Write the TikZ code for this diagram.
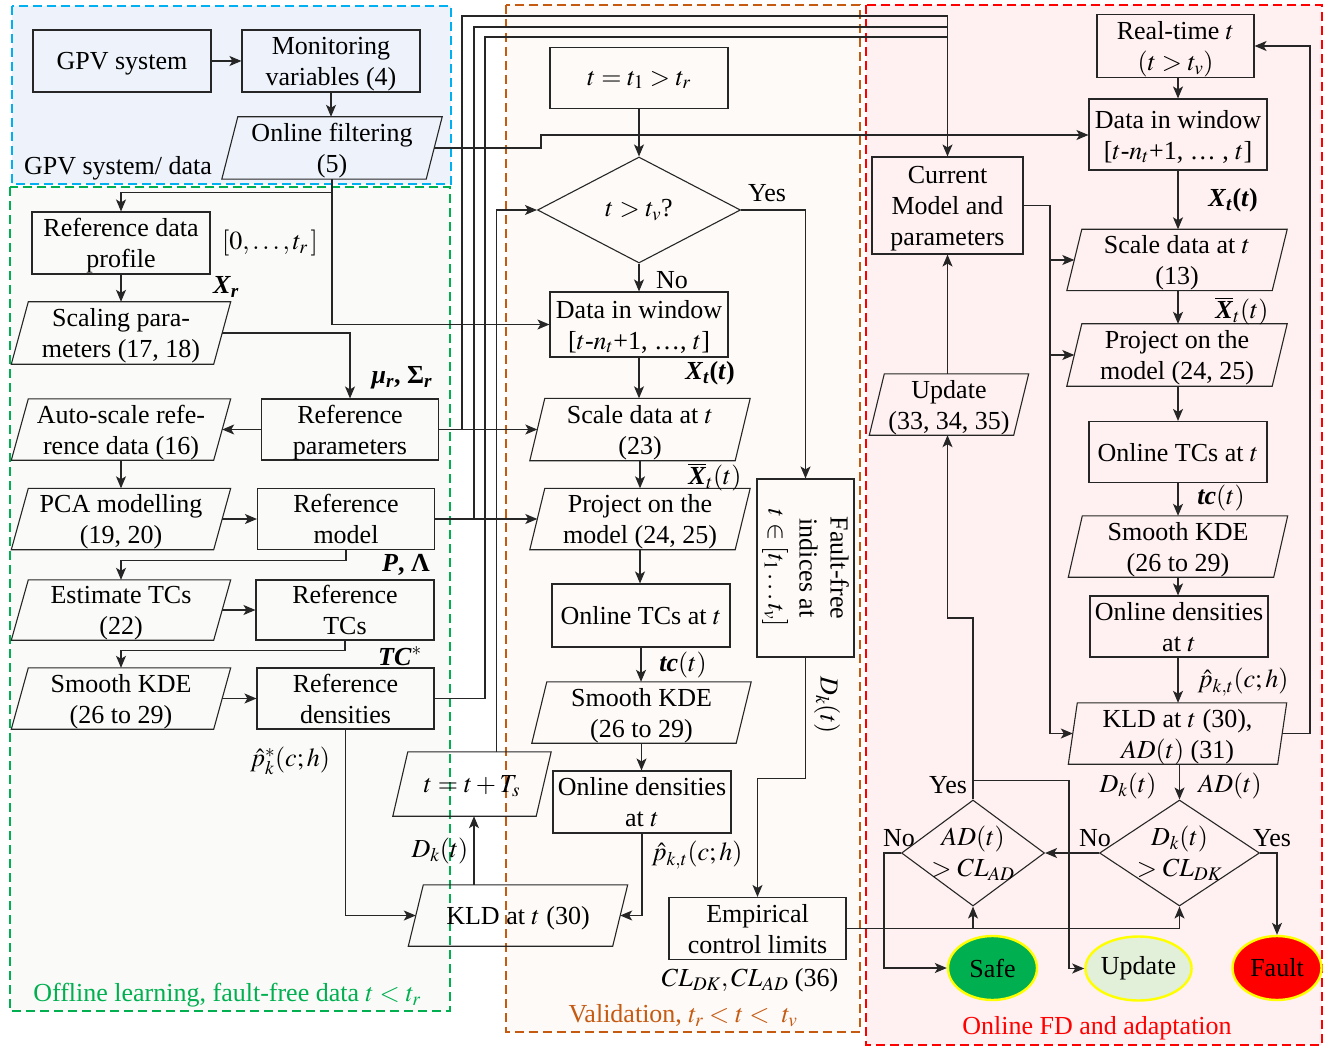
\documentclass[tikz,border=0pt]{standalone}
\usepackage{amsmath}
\usepackage{mathptmx}
\usepackage{fontspec}
\setmainfont{Liberation Serif}
\usetikzlibrary{arrows.meta,shapes.geometric}
\definecolor{cBlue}{HTML}{00B0F0}
\definecolor{fBlue}{HTML}{EEF3FB}
\definecolor{cGreen}{HTML}{00B050}
\definecolor{fGreen}{HTML}{FAFAF8}
\definecolor{cOrange}{HTML}{C55A11}
\definecolor{fOrange}{HTML}{FEFAF8}
\definecolor{cRed}{HTML}{FF0000}
\definecolor{fRed}{HTML}{FFF1F1}
\definecolor{cSafe}{HTML}{00B050}
\definecolor{cUpd}{HTML}{E2EFD9}
\definecolor{cYel}{HTML}{FFFF00}
\newcommand\fnt{\fontsize{26}{31}\selectfont}
\newcommand\bi[1]{\textbf{\textit{#1}}}
\newcommand\drawpara[2]{\draw[bx] ([xshift=#2pt]#1.north west) -- ([xshift=#2pt]#1.north east) -- ([xshift=-#2pt]#1.south east) -- ([xshift=-#2pt]#1.south west) -- cycle;}
\tikzset{
  bx/.style={line width=1.1pt, draw=black!85},
  box/.style={bx, rectangle, inner sep=0pt, align=center, text depth=-2pt},
  pnode/.style={rectangle, inner sep=0pt, align=center, text depth=-2pt},
  dmd/.style={bx, diamond, inner sep=0pt, aspect=1},
  ell/.style={ellipse, draw=cYel, line width=2.4pt, inner sep=0pt, minimum width=89, minimum height=64},
  arr/.style={line width=1.1pt, draw=black!85, -{Stealth[length=12pt,width=10pt,inset=3pt]}},
  ln/.style={line width=1.1pt, draw=black!85},
  reg/.style={dash pattern=on 9pt off 5pt, line width=2.2pt},
  lbl/.style={inner sep=0pt}
}
\begin{document}
\begin{tikzpicture}[x=1pt,y=-1pt,font=\fnt]
\useasboundingbox (0,0) rectangle (1338,1048);
% regions
\draw[reg, draw=cBlue, fill=fBlue] (12,6) rectangle (451,184);
\draw[reg, draw=cGreen, fill=fGreen] (10,187) rectangle (450,1011);
\draw[reg, draw=cOrange, fill=fOrange] (506,5) rectangle (860,1032);
\draw[reg, draw=cRed, fill=fRed] (866,5) rectangle (1322,1045);
\node[lbl] (rgBlue) at (118,168) {GPV system/ data};
\node[lbl, text=cGreen] (rgGreen) at (227,995) {Offline learning, fault-free data $t < t_r$};
\node[lbl, text=cOrange] (rgOrange) at (683,1016) {Validation, $t_r < t <\ t_v$};
\node[lbl, text=cRed] (rgRed) at (1097,1028) {Online FD and adaptation};

% coordinates for bus lines
\coordinate (bus1) at (462,16);
\coordinate (bus2) at (474,27);
\coordinate (bus3) at (485,37);
\coordinate (lp) at (496.5,0);
\coordinate (rr) at (1310,0);
\coordinate (cb) at (1050,0);
\coordinate (updV) at (1069,900);

% left column
\node[box, minimum width=178, minimum height=62] (gpv) at (122,61) {GPV system};
\node[box, minimum width=178, minimum height=62] (mon) at (331,61) {Monitoring\\variables (4)};
\node[pnode, minimum width=204, minimum height=62] (filt) at (332,148) {Online filtering\\(5)};
\drawpara{filt}{8}
\node[box, minimum width=178, minimum height=62] (refdata) at (121,243) {Reference data\\profile};
\node[pnode, minimum width=202, minimum height=62] (scal) at (121,333) {Scaling para-\\meters (17, 18)};
\drawpara{scal}{8.5}
\node[box, minimum width=177, minimum height=61] (refpar) at (350,429.5) {Reference\\parameters};
\node[pnode, minimum width=202, minimum height=61] (auto) at (121,429.5) {Auto-scale refe-\\rence data (16)};
\drawpara{auto}{8.5}
\node[pnode, minimum width=202, minimum height=61] (pca) at (121,519) {PCA modelling\\(19, 20)};
\drawpara{pca}{8.5}
\node[box, minimum width=177, minimum height=61] (refmod) at (346,519) {Reference\\model};
\node[pnode, minimum width=202, minimum height=60] (est) at (121,610) {Estimate TCs\\(22)};
\drawpara{est}{8.5}
\node[box, minimum width=178, minimum height=60] (reftc) at (345,610) {Reference\\TCs};
\node[pnode, minimum width=202, minimum height=61] (kde1) at (121,698.5) {Smooth KDE\\(26 to 29)};
\drawpara{kde1}{8.5}
\node[box, minimum width=177, minimum height=61] (refden) at (345.5,698.5) {Reference\\densities};

% middle column
\node[box, minimum width=178, minimum height=61] (t1) at (639,78) {$t = t_1 > t_r$};
\node[dmd, minimum width=203, minimum height=106] (dv) at (639,210) {};
\node[lbl] (dvT) at (dv) {$t > t_v$?};
\node[box, minimum width=178, minimum height=65] (dwin) at (639,324.5) {Data in window\\{}[$t$-$n_t$+1, \ldots, $t$]};
\node[pnode, minimum width=205, minimum height=62] (scal2) at (640,429.5) {Scale data at $t$\\(23)};
\drawpara{scal2}{7.5}
\node[pnode, minimum width=205, minimum height=61] (proj) at (640,519) {Project on the\\model (24, 25)};
\drawpara{proj}{7.5}
\node[box, minimum width=178, minimum height=63] (otc) at (641,615.5) {Online TCs at $t$};
\node[pnode, minimum width=204, minimum height=61] (kde2) at (641.5,712.5) {Smooth KDE\\(26 to 29)};
\drawpara{kde2}{7.5}
\node[box, minimum width=178, minimum height=62] (oden) at (642,802) {Online densities\\at $t$};
\node[pnode, minimum width=204, minimum height=61] (kld) at (518,915.5) {KLD at $t$ (30)};
\drawpara{kld}{7.5}
\node[pnode, minimum width=143, minimum height=64] (tts) at (472,784) {$t = t + T_s$};
\drawpara{tts}{7.5}
\node[bx, rectangle, minimum width=97, minimum height=178, inner sep=0pt] (ff) at (805.5,568) {};
\node[lbl, rotate=-90, align=center] (ffT) at (ff) {Fault-free\\indices at\\$t \in [t_1 \ldots t_v]$};
\node[box, minimum width=177, minimum height=62] (emp) at (757.5,928.5) {Empirical\\control limits};

% right column
\node[box, minimum width=157, minimum height=63] (rt) at (1175.5,46) {Real-time $t$\\$(t > t_v)$};
\node[box, minimum width=178, minimum height=71] (dwin2) at (1178,134.5) {Data in window\\{}[$t$-$n_t$+1, \ldots\ , $t$]};
\node[box, minimum width=151, minimum height=97] (cur) at (947.5,205.5) {Current\\Model and\\parameters};
\node[pnode, minimum width=205, minimum height=61] (scal3) at (1177,260) {Scale data at $t$\\(13)};
\drawpara{scal3}{7.5}
\node[pnode, minimum width=205, minimum height=62] (proj2) at (1177,355) {Project on the\\model (24, 25)};
\drawpara{proj2}{7.5}
\node[box, minimum width=178, minimum height=61] (otc2) at (1178,452) {Online TCs at $t$};
\node[pnode, minimum width=205, minimum height=61] (kde3) at (1178,546.5) {Smooth KDE\\(26 to 29)};
\drawpara{kde3}{7}
\node[box, minimum width=178, minimum height=61] (oden2) at (1179,626.5) {Online densities\\at $t$};
\node[pnode, minimum width=209, minimum height=61] (kld2) at (1177.5,733.5) {KLD at $t$ (30),\\$AD(t)$ (31)};
\drawpara{kld2}{4.5}
\node[pnode, minimum width=144, minimum height=61] (upd) at (949,404.5) {Update\\(33, 34, 35)};
\drawpara{upd}{7.5}
\node[dmd, minimum width=143, minimum height=106] (dAD) at (973,853) {};
\node[lbl, align=center] (dADT) at (dAD) {$AD(t)$\\$> CL_{AD}$};
\node[dmd, minimum width=160, minimum height=106] (dDK) at (1179.5,853) {};
\node[lbl, align=center] (dDKT) at (dDK) {$D_k(t)$\\$> CL_{DK}$};
\node[ell, fill=cSafe] (safe) at (992.5,968) {Safe};
\node[ell, fill=cUpd] (updE) at (1138.5,968.5) {Update};
\node[ell, fill=cRed] (fault) at (1277,968) {Fault};

% connectors left
\draw[arr] (gpv) -- (mon);
\draw[arr] (mon.south) -- (mon.south |- filt.north);
\draw[arr] (filt.east) -- (541,148) -- (541,135) -- (dwin2.west |- 0,135);
\draw[arr] (filt.south) -- ++(0,13) -| (refdata.north);
\draw[arr] (filt.south) |- (dwin.west);
\draw[arr] (refdata.south) -- (refdata.south |- scal.north);
\draw[arr] (scal.east) -| (refpar.north);
\draw[arr] (refpar.west) -- (auto.east);
\draw[arr] (auto.south) -- (pca.north);
\draw[arr] (pca.east) -- (refmod.west);
\draw[arr] (refmod.south) -- ++(0,10) -| (est.north);
\draw[arr] (est.east) -- (reftc.west);
\draw[arr] (reftc.south) -- ++(0,10) -| (kde1.north);
\draw[arr] (kde1.east) -- (refden.west);
\draw[arr] (refden.south) |- (kld.west);
\draw[arr] (refpar.east) -- (scal2.west);
\draw[arr] (refmod.east) -- (proj.west);
\draw[ln] (refden.east) -- (refden.east -| bus3);
\draw[ln] (refpar.east -| bus1) |- (bus1 -| cur.north);
\draw[ln] (refmod.east -| bus2) |- (bus2 -| cur.north);
\draw[ln] (refden.east -| bus3) |- (bus3 -| cur.north);
\draw[arr] (bus1 -| cur.north) -- (cur.north);

% connectors middle
\draw[arr] (t1.south) -- (dv.north);
\draw[arr] (dv.east) -| (ff.north);
\draw[arr] (dv.south) -- (dv.south |- dwin.north);
\draw[arr] (dwin.south) -- (dwin.south |- scal2.north);
\draw[arr] (scal2.south) -- (scal2.south |- proj.north);
\draw[arr] (proj.south) -- (proj.south |- otc.north);
\draw[arr] (otc.south) -- (otc.south |- kde2.north);
\draw[arr] (kde2.south) -- (kde2.south |- oden.north);
\draw[arr] (oden.south) |- (kld.east);
\draw[arr] (kld.north -| bus2) -- (tts.south -| bus2);
\draw[arr] (tts.north -| lp) |- (dv.west);
\draw[arr] (ff.south) -- ++(0,120.5) -| (emp.north);
\draw[arr] (emp.east) -| (dDK.south);
\draw[arr] (emp.east -| dAD.south) -- (dAD.south);

% connectors right
\draw[arr] (dwin2.north |- rt.south) -- (dwin2.north);
\draw[arr] (dwin2.south) -- (dwin2.south |- scal3.north);
\draw[arr] (dwin2.south |- scal3.south) -- (dwin2.south |- proj2.north);
\draw[arr] (dwin2.south |- proj2.south) -- (otc2.north);
\draw[arr] (otc2.south) -- (kde3.north);
\draw[arr] (kde3.south) -- (kde3.south |- oden2.north);
\draw[arr] (kde3.south |- oden2.south) -- (kde3.south |- kld2.north);
\draw[arr] (kld2.east) -- (kld2.east -| rr) |- (rt.east);
\draw[ln] (cur.east) -- (cur.east -| cb) -- (kld2.west -| cb);
\draw[arr] (scal3.west -| cb) -- (scal3.west);
\draw[arr] (proj2.west -| cb) -- (proj2.west);
\draw[arr] (kld2.west -| cb) -- (kld2.west);
\draw[arr] (upd.north -| cur.south) -- (cur.south);
\draw[arr] (dAD.north) -- (dAD.north |- 0,618) -| (upd.south -| cur.south);
\draw[arr] ([yshift=19pt]dAD.north) -| (updV) |- (updE.west);
\draw[arr] (dDK.north |- kld2.south) -- (dDK.north);
\draw[arr] (dDK.west) -- (dAD.east);
\draw[arr] (dDK.east) -| (fault.north);
\draw[arr] (dAD.west) -- ++(-17,0) |- (safe.west);

% labels
\node[lbl] (l1) at (270,243) {$[0, \ldots, t_r\,]$};
\node[lbl] (l2) at (226,287) {\bi{X}$_{\text{\bi{r}}}$};
\node[lbl] (l3) at (402,378) {\bi{μ}$_{\text{\bi{r}}}$\textbf{, Σ}$_{\text{\bi{r}}}$};
\node[lbl] (l4) at (406,565) {\bi{P}\textbf{,\ Λ}};
\node[lbl] (l5) at (400,656) {\bi{TC}$^{*}$};
\node[lbl] (l6) at (290,761) {$\hat{p}_k^{*}(c;h)$};
\node[lbl] (l7) at (767,193) {Yes};
\node[lbl] (l8) at (672,280) {No};
\node[lbl] (l9) at (710,373) {\bi{X}$_{\text{\bi{t}}}$\textbf{(}\bi{t}\textbf{)}};
\node[lbl] (l10) at (715,477) {$\overline{\text{\bi{X}}}_t(t)$};
\node[lbl] (l11) at (683,665) {\bi{tc}$(t)$};
\node[lbl] (l12) at (697,855) {$\hat{p}_{k,t}(c;h)$};
\node[lbl] (l13) at (440,851) {$D_k(t)$};
\node[lbl, rotate=-90] (l14) at (827,705) {$D_k(t)$};
\node[lbl] (l15) at (750,980) {$CL_{DK}, CL_{AD}$ (36)};
\node[lbl] (l16) at (1233,200) {\bi{X}$_{\text{\bi{t}}}$\textbf{(}\bi{t}\textbf{)}};
\node[lbl] (l17) at (1242,311) {$\overline{\text{\bi{X}}}_t(t)$};
\node[lbl] (l18) at (1221,498) {\bi{tc}$(t)$};
\node[lbl] (l19) at (1243,682) {$\hat{p}_{k,t}(c;h)$};
\node[lbl] (l20) at (1128,786) {$D_k(t)$};
\node[lbl] (l21) at (1230,786) {$AD(t)$};
\node[lbl] (l22) at (948,785) {Yes};
\node[lbl] (l23) at (899,838) {No};
\node[lbl] (l24) at (1095,838) {No};
\node[lbl] (l25) at (1272,838) {Yes};
\end{tikzpicture}
\end{document}
